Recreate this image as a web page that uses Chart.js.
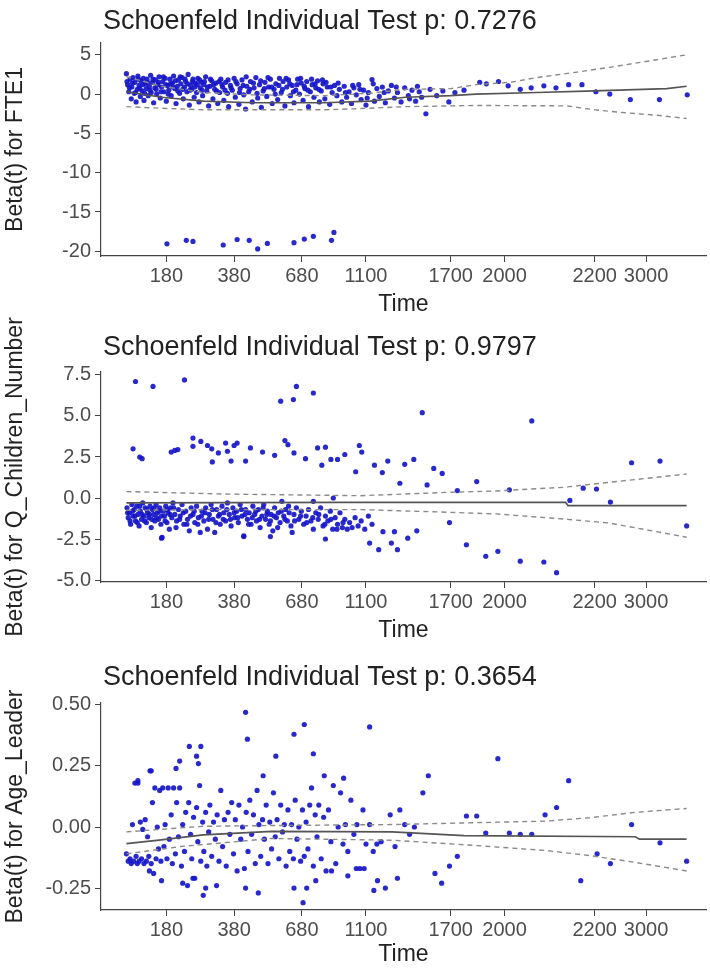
<!DOCTYPE html>
<html>
<head>
<meta charset="utf-8">
<script src="https://cdn.jsdelivr.net/npm/chart.js@4.4.1/dist/chart.umd.min.js"></script>
<style>
  body { margin: 0; background: #fff; width: 710px; height: 976px; overflow: hidden; }
  .panel { position: absolute; left: 0; }
</style>
</head>
<body>
<div class="panel" style="top:0px"><canvas id="fte1" width="710" height="326"></canvas></div>
<div class="panel" style="top:280px"><canvas id="children" width="710" height="372"></canvas></div>
<div class="panel" style="top:652px"><canvas id="age" width="710" height="324"></canvas></div>
<script>
// x axis is the transformed time scale (0-100), labelled with real times
const timeTicks = [10.8, 22.0, 33.2, 43.8, 57.8, 66.7, 81.6, 90.1];
const timeLabels = ["180", "380", "680", "1100", "1700", "2000", "2200", "3000"];

// ---- FTE1 ----
const fte1Title = "Schoenfeld Individual Test p: 0.7276";
const fte1Ticks = [5, 0, -5, -10, -15, -20];
const fte1Points = [
  [4.2,2.6],[4.4,1.2],[4.6,0.3],[4.8,1.9],[5.0,-0.6],[5.1,0.9],[5.3,2.1],[5.5,0.1],[5.6,1.5],[5.8,-1.0],
  [6.0,0.6],[6.1,2.3],[6.3,1.1],[6.5,-0.3],[6.6,1.7],[6.8,0.4],[7.0,2.0],[7.1,-0.8],[7.3,1.3],[7.5,0.7],
  [7.6,1.9],[7.8,-0.2],[8.0,1.0],[8.2,2.4],[8.3,0.2],[8.5,1.5],[8.7,-1.1],[8.9,0.8],[9.0,1.8],[9.2,0.0],
  [9.4,1.2],[9.6,2.2],[9.8,-0.5],[10.0,0.9],[10.2,1.6],[10.4,0.3],[10.6,2.0],[10.8,-0.9],[11.0,1.1],[11.2,0.5],
  [11.4,1.9],[11.6,-0.2],[11.8,1.4],[12.0,2.3],[12.2,0.7],[12.4,-1.2],[12.6,1.0],[12.8,1.8],[13.0,0.1],[13.2,1.3],
  [13.4,2.1],[13.6,-0.6],[13.8,0.9],[14.0,1.6],[14.2,0.3],[14.4,2.5],[14.6,-1.4],[14.8,1.1],[15.0,0.6],[15.2,1.9],
  [15.4,-0.4],[15.6,1.4],[15.8,0.2],[16.0,2.0],[16.2,-1.0],[16.4,0.8],[16.6,1.5],[16.8,-0.2],[17.0,1.2],[17.3,2.2],
  [17.5,0.4],[17.8,-1.5],[18.0,1.0],[18.3,1.7],[18.5,-0.6],[18.8,0.6],[19.0,1.4],[19.3,-1.2],[19.6,0.2],[19.8,1.9],
  [20.1,0.9],[20.3,-0.8],[20.6,1.5],[20.9,0.1],[21.1,-1.6],[21.4,1.1],[21.7,0.5],[22.0,2.0],[22.2,-0.4],[22.5,1.3],
  [22.8,-1.3],[23.0,0.7],[23.3,1.8],[23.6,-0.1],[23.9,-1.9],[24.1,1.0],[24.4,0.3],[24.7,1.6],[25.0,-1.0],[25.3,0.8],
  [25.6,2.1],[25.9,-0.5],[26.2,1.2],[26.5,-1.7],[26.8,0.4],[27.1,1.5],[27.4,-0.3],[27.7,0.9],[28.0,1.9],[28.3,-1.2],
  [28.6,0.6],[28.9,1.3],[29.2,-0.7],[29.5,2.0],[29.8,0.2],[30.1,1.6],[30.4,-1.5],[30.7,0.9],[31.0,1.8],[31.3,-0.2],
  [31.6,1.1],[31.9,-1.1],[32.2,0.5],[32.5,1.9],[32.8,0.0],[33.1,1.4],[33.4,-0.8],[33.7,0.7],[34.0,1.6],[34.3,-1.6],
  [34.6,0.3],[34.9,1.2],[35.2,-0.4],[35.5,0.8],[35.8,1.7],[36.1,-1.0],[36.4,0.4],[36.7,1.3],[37.0,-0.6],[37.4,0.9],
  [37.8,-1.3],[38.2,0.2],[38.6,1.1],[39.0,-0.2],[39.4,0.6],[39.8,-1.0],[40.2,1.0],[40.6,-0.4],[41.0,0.3],[41.4,-1.2],
  [41.8,0.8],[42.2,-0.1],[42.6,1.2],[43.0,-0.7],[43.4,0.5],[43.8,-1.4],[44.2,0.2],[44.8,1.85],[45.2,-0.9],[45.6,0.7],
  [46.0,-0.3],[46.5,0.9],[47.0,-1.1],[47.5,0.4],[48.0,1.1],[48.5,-0.5],[49.0,0.2],[49.6,-1.0],[50.2,0.8],[50.8,-0.2],
  [51.4,0.5],[52.0,-0.9],[52.6,0.3],[53.0,-0.4],[53.7,-2.5],[54.4,0.6],[55.5,-0.2],[56.5,0.4],[57.5,-1.0],[58.5,0.2],
  [60.0,0.5],[62.6,1.5],[63.7,1.3],[65.7,1.6],[67.3,1.05],[69.3,0.6],[71.1,0.8],[73.2,1.05],[75.2,0.8],[77.3,1.2],
  [79.5,1.2],[81.8,0.3],[84.1,0.0],[87.5,-0.7],[92.3,-0.7],[96.9,-0.1],
  // dense band, second pass
  [4.3,1.6],[4.7,0.8],[5.2,1.4],[5.7,0.2],[6.2,1.9],[6.4,0.7],[6.9,1.2],[7.2,0.1],[7.7,1.5],[8.1,0.5],
  [8.6,1.9],[9.1,0.6],[9.5,1.5],[9.9,0.3],[10.3,2.2],[10.7,1.2],[11.1,0.0],[11.5,1.3],[11.9,0.9],[12.3,1.7],
  [12.7,0.4],[13.1,2.2],[13.5,0.6],[13.9,1.9],[14.3,1.3],[14.7,0.5],[15.1,1.6],[15.5,0.9],[15.9,1.2],[16.3,1.8],
  [16.7,0.5],[17.1,1.6],[17.6,0.9],[18.1,1.9],[18.6,1.2],[19.1,0.4],[19.5,1.6],[20.0,1.2],[20.5,0.5],[21.0,1.8],
  [21.5,0.8],[22.3,1.6],[22.9,0.2],[23.5,1.1],[24.0,2.2],[24.6,0.6],[25.2,1.4],[25.8,0.1],[26.4,1.7],[27.0,0.7],
  [27.6,2.1],[28.2,0.9],[28.8,0.0],[29.4,1.1],[30.0,0.6],[30.6,2.0],[31.2,1.3],[31.8,0.3],[32.4,1.2],[33.0,2.0],
  [33.6,1.0],[34.2,0.5],[34.8,1.9],[35.4,1.3],[36.0,0.6],[36.6,1.8],[37.2,1.5],[38.0,0.9],[39.2,1.4],[40.4,0.2],
  [41.6,1.1],[42.8,0.6],[44.0,-0.5],[45.0,1.3],[46.8,0.2],[48.8,0.9],[51.0,-0.6],[52.3,1.0],
  // low group
  [10.9,-19.05],[14.1,-18.6],[15.2,-18.75],[20.2,-19.2],[22.5,-18.5],[24.5,-18.6],[25.9,-19.7],[27.5,-19.0],
  [31.9,-18.9],[33.6,-18.45],[35.1,-18.1],[38.1,-18.6],[38.5,-17.6]
];
const fte1Fit = [[4.2,0.3],[10,-0.4],[16.9,-0.9],[25.1,-1.1],[37,-1.1],[44.4,-0.9],[50.3,-0.4],[57.8,-0.2],[62,0.0],[72,0.2],[81.6,0.4],[93.5,0.7],[96.8,1.0]];
const fte1Upper = [[4.2,2.2],[10,1.0],[16.9,0.2],[25,-0.1],[37,-0.2],[44.4,0.1],[50.3,0.6],[57.8,0.7],[62,1.2],[67.7,1.5],[72,2.1],[78.7,2.8],[84,3.4],[89.7,4.1],[96.8,5.0]];
const fte1Lower = [[4.2,-1.6],[10,-1.8],[16.9,-2.0],[25,-2.0],[37,-2.0],[44.4,-1.8],[50.3,-1.6],[57.8,-1.5],[62,-1.45],[77,-1.5],[81.6,-2.0],[87,-2.4],[92,-2.7],[96.8,-3.1]];

// ---- Q_Children_Number ----
const childTitle = "Schoenfeld Individual Test p: 0.9797";
const childTicks = [7.5, 5.0, 2.5, 0.0, -2.5, -5.0];
const childPoints = [
  [4.3,-0.6],[4.5,-1.2],[4.7,-0.9],[4.9,-1.6],[5.1,-0.4],[5.3,-1.1],[5.5,-0.7],[5.7,-1.4],[5.9,-0.5],[6.1,-1.0],
  [6.3,-1.7],[6.5,-0.8],[6.7,-1.3],[6.9,-0.3],[7.1,-1.1],[7.3,-0.6],[7.5,-1.5],[7.7,-0.9],[7.9,-1.2],[8.1,-0.5],
  [8.3,-1.8],[8.5,-0.7],[8.7,-1.0],[8.9,-1.4],[9.1,-0.4],[9.3,-0.9],[9.5,-1.3],[9.7,-0.6],[9.9,-1.6],[10.1,-2.4],
  [10.3,-0.8],[10.5,-1.1],[10.7,-0.5],[10.9,-1.5],[11.1,-0.9],[11.3,-1.9],[11.5,-0.6],[11.7,-1.2],[11.9,-0.3],[12.2,-1.0],
  [12.5,-1.4],[12.8,-0.7],[13.1,-1.1],[13.4,-0.4],[13.7,-1.6],[14.0,-0.8],[14.3,-1.3],[14.6,-2.0],[14.9,-0.6],[15.2,-1.0],
  [15.5,-1.5],[15.8,-0.5],[16.1,-1.2],[16.4,-2.1],[16.7,-0.8],[17.0,-1.4],[17.3,-0.6],[17.6,-1.9],[17.9,-1.0],[18.2,-0.4],
  [18.5,-1.3],[18.8,-2.1],[19.1,-0.7],[19.4,-1.1],[19.7,-1.6],[20.0,-0.5],[20.3,-0.9],[20.6,-1.4],[20.9,-0.3],[21.2,-1.0],
  [21.5,-1.7],[21.8,-0.6],[22.1,-1.2],[22.4,-0.8],[22.7,-1.5],[23.0,-0.4],[23.3,-1.1],[23.6,-2.3],[23.9,-0.7],[24.2,-1.3],
  [24.5,-0.9],[24.8,-1.6],[25.1,-0.5],[25.4,-1.0],[25.7,-1.4],[26.0,-0.7],[26.3,-1.8],[26.6,-1.1],[26.9,-0.4],[27.2,-1.3],
  [27.5,-0.8],[27.8,-1.6],[28.1,-1.0],[28.4,-2.0],[28.7,-0.6],[29.0,-1.2],[29.3,-0.9],[29.6,-1.5],[29.9,-0.2],[30.2,-1.1],
  [30.5,-0.7],[30.8,-1.4],[31.1,-0.9],[31.4,-1.7],[31.9,-1.0],[32.3,-0.6],[32.7,-1.3],[33.1,-0.8],[33.5,-1.6],[33.9,-1.1],
  [34.3,-0.7],[34.7,-1.4],[35.1,-1.9],[35.5,-0.9],[35.9,-1.3],[36.3,-0.6],[36.7,-1.7],[37.1,-1.1],[37.5,-1.4],[37.9,-0.8],
  [38.3,-1.9],[38.7,-1.2],[39.1,-1.6],[39.5,-0.9],[39.9,-1.8],[40.3,-1.3],[40.7,-1.9],[41.1,-1.5],[41.5,-1.8],[42.0,-1.2],
  [42.5,-1.7],[43.0,-1.4],[43.6,-1.9],[44.2,-1.1],[44.8,-1.6],[35.1,-0.2],[38.4,0.0],
  // dense band, second pass
  [4.4,-0.9],[4.8,-1.4],[5.2,-0.8],[5.6,-1.1],[6.0,-1.5],[6.4,-0.5],[6.8,-1.0],[7.2,-1.4],[7.6,-0.7],[8.0,-1.0],
  [8.4,-1.3],[8.8,-0.6],[9.2,-1.2],[9.6,-0.8],[10.0,-1.1],[10.6,-1.4],[11.0,-0.7],[11.4,-1.0],[12.0,-0.6],[12.4,-1.8],
  [13.0,-1.3],[13.6,-0.9],[14.2,-1.6],[14.8,-1.1],[15.4,-0.8],[16.0,-1.6],[16.6,-1.1],[17.2,-0.9],[17.8,-1.3],[18.4,-0.7],
  [19.0,-1.5],[19.6,-1.0],[20.2,-1.3],[20.8,-0.7],[21.4,-1.3],[22.0,-0.9],[22.6,-1.2],[23.2,-0.7],[23.8,-1.0],[24.4,-1.6],
  [25.0,-1.2],[25.6,-0.8],[26.2,-1.3],[26.8,-0.6],[27.4,-1.0],[28.0,-1.4],[28.6,-1.1],[29.2,-1.8],[29.8,-0.8],[30.4,-1.3],
  [31.0,-0.5],[32.0,-1.4],[33.0,-1.1],[34.0,-1.5],[35.0,-1.2],[36.0,-1.0],[37.0,-1.6],[38.0,-1.3],[39.0,-1.9],[40.0,-1.5],
  // upper outliers
  [5.7,7.1],[8.6,6.8],[13.8,7.2],[29.7,5.9],[31.8,6.0],[32.3,6.8],[35.1,6.4],[53.1,5.2],[71.2,4.7],
  [5.3,3.0],[6.4,2.5],[6.8,2.4],[11.6,2.8],[12.2,2.9],[12.7,2.95],[15.2,3.65],[15.2,3.15],[16.5,3.45],[17.6,3.2],
  [18.3,3.0],[18.4,2.2],[19.4,2.75],[20.6,3.35],[20.9,2.85],[21.5,2.25],[22.0,3.2],[22.5,3.35],[23.9,2.25],[24.7,3.05],
  [26.7,2.8],[28.7,2.6],[30.4,3.5],[30.9,3.25],[31.9,2.75],[33.8,2.4],[35.8,3.05],[37.1,3.1],[36.5,2.0],[38.0,2.35],
  [39.1,2.35],[40.3,2.65],[42.1,1.6],[42.7,3.2],[43.1,2.8],[45.2,2.0],[46.5,1.55],[47.4,2.25],[49.4,0.9],[50.2,2.05],
  [51.7,2.35],[53.9,0.8],[55.0,1.8],[56.4,1.5],[58.9,0.45],[62.1,1.0],[67.5,0.5],[77.5,-0.15],[79.7,0.6],[81.9,0.55],
  [84.2,-0.25],[87.7,2.15],[92.4,2.25],[96.8,-1.7],
  // lower outliers
  [57.6,-1.5],[60.4,-2.85],[63.6,-3.55],[65.6,-3.25],[69.3,-3.85],[73.2,-3.9],[75.3,-4.55],[44.4,-2.75],[45.9,-3.15],
  [46.6,-2.05],[48.5,-2.05],[48.0,-2.75],[49.0,-3.15],[50.7,-2.45],[52.2,-2.0],[37.1,-2.5],[28.0,-2.35],[23.6,-2.35],
  [10.0,-2.45],[31.6,-2.1]
];
const childFit = [[4.2,-0.3],[40,-0.27],[76.8,-0.27],[77.2,-0.46],[96.8,-0.47]];
const childUpper = [[4.2,0.39],[20.6,0.24],[42.9,0.14],[57.8,0.35],[65.3,0.43],[76.4,0.65],[83.9,0.95],[96.8,1.46]];
const childLower = [[4.2,-0.75],[16.9,-0.71],[42.9,-0.71],[54.1,-0.83],[65.3,-0.97],[76.4,-1.28],[83.9,-1.52],[96.8,-2.39]];

// ---- Age_Leader ----
const ageTitle = "Schoenfeld Individual Test p: 0.3654";
const ageTicks = [0.5, 0.25, 0.0, -0.25];
const agePoints = [
  [4.2,-0.11],[4.5,-0.14],[4.8,-0.13],[5.0,-0.15],[5.2,0.01],[5.4,-0.14],[5.6,0.18],[5.8,-0.12],[6.0,-0.15],[6.1,0.19],
  [6.3,-0.14],[6.5,0.02],[6.7,-0.13],[6.9,-0.01],[7.1,-0.15],[7.3,0.03],[7.5,-0.14],[7.7,-0.04],[7.9,-0.12],[8.1,0.23],
  [8.3,-0.15],[8.5,0.1],[8.7,-0.19],[8.9,0.16],[9.1,-0.13],[9.3,0.0],[9.5,-0.09],[9.7,0.15],[9.9,-0.14],[10.2,0.16],
  [10.4,-0.08],[10.6,0.01],[10.9,-0.13],[11.1,0.16],[11.3,-0.05],[11.6,0.05],[11.8,-0.15],[12.0,0.16],[12.3,-0.11],[12.5,0.1],
  [12.8,-0.04],[13.0,0.16],[13.3,-0.16],[13.5,0.01],[13.8,-0.1],[14.0,0.06],[14.3,-0.24],[14.5,0.1],[14.8,-0.03],[15.0,-0.13],
  [15.3,0.04],[15.5,-0.21],[15.8,0.08],[16.0,-0.06],[16.3,0.17],[16.5,-0.14],[16.8,0.02],[17.0,-0.1],[17.3,0.06],[17.5,-0.16],
  [17.8,-0.02],[18.0,0.09],[18.3,-0.12],[18.6,0.02],[18.9,-0.05],[19.2,0.05],[19.5,-0.14],[19.8,0.15],[20.1,-0.08],[20.4,0.03],
  [20.7,-0.16],[21.0,0.06],[21.3,-0.03],[21.6,0.1],[21.9,-0.11],[22.2,0.03],[22.5,-0.18],[22.8,0.09],[23.1,-0.05],[23.4,0.0],
  [23.7,-0.17],[24.0,0.06],[24.3,-0.1],[24.6,0.11],[24.9,-0.03],[25.2,0.05],[25.5,-0.15],[25.8,0.15],[26.1,0.01],[26.4,-0.12],
  [26.7,0.03],[27.0,-0.05],[27.3,0.09],[27.6,-0.15],[27.9,0.02],[28.2,-0.09],[28.5,0.14],[28.8,-0.04],[29.1,0.03],[29.4,-0.13],
  [29.7,0.09],[30.0,-0.02],[30.3,0.01],[30.6,-0.16],[30.9,0.07],[31.2,-0.1],[31.5,0.01],[31.8,-0.13],[32.1,0.11],[32.4,-0.05],
  [32.7,0.0],[33.0,-0.14],[33.3,0.07],[33.6,-0.12],[33.9,0.02],[34.2,-0.09],[34.5,0.09],[34.8,0.16],[35.1,-0.16],[35.4,0.05],
  [35.7,-0.04],[36.0,0.09],[36.4,-0.13],[36.8,0.04],[37.2,-0.18],[37.6,0.07],[38.0,-0.06],[38.4,0.17],[38.8,-0.15],[39.2,0.0],
  [39.6,0.14],[40.0,-0.07],[40.4,0.01],[40.8,-0.1],[41.3,0.11],[41.8,-0.03],[42.3,0.01],[42.8,-0.17],[43.3,0.07],[43.8,-0.07],
  [44.4,0.01],[45.0,-0.1],[45.6,-0.07],[46.3,-0.06],[47.0,-0.25],[47.8,0.05],[48.6,-0.08],[49.4,0.07],[50.2,0.01],[51.0,-0.03],
  [51.8,0.0],
  // scattered
  [23.9,0.47],[24.2,0.36],[31.9,0.38],[33.6,0.42],[44.4,0.41],[14.6,0.33],[16.5,0.33],[15.8,0.29],[16.1,0.26],[13.0,0.27],
  [12.4,0.24],[28.9,0.29],[35.1,0.3],[65.6,0.28],[77.3,0.19],[75.3,0.08],[73.4,0.05],[54.1,0.21],[53.2,0.14],[26.8,0.21],
  [36.9,0.21],[40.1,0.2],[6.1,0.18],[8.3,0.23],[79.3,-0.22],[82.0,-0.11],[84.2,-0.15],[92.4,-0.065],[96.8,-0.14],[87.7,0.01],
  [60.4,0.045],[62.1,0.045],[63.6,-0.025],[67.5,-0.025],[69.3,-0.03],[71.2,-0.03],[55.2,-0.19],[56.3,-0.23],[57.6,-0.16],[58.9,-0.12],
  [49.0,-0.21],[45.7,-0.22],[45.1,-0.26],[33.4,-0.31],[31.9,-0.25],[34.0,-0.25],[26.0,-0.27],[23.9,-0.25],[16.9,-0.28],[17.3,-0.25],
  [19.1,-0.24],[13.5,-0.23],[10.0,-0.22],[8.0,-0.18],[15.2,-0.21],[35.5,-0.22],[38.1,-0.18],[40.8,-0.2],[42.2,-0.17],[43.5,-0.17]
];
const ageFit = [[4.2,-0.068],[9.6,-0.054],[16.9,-0.032],[28.2,-0.018],[48.1,-0.02],[60,-0.035],[88.3,-0.04],[89,-0.05],[96.8,-0.05]];
const ageUpper = [[4.2,-0.02],[9.6,-0.01],[16.9,0.003],[28.2,0.006],[48.1,0.01],[73.4,0.024],[80.8,0.038],[88.3,0.06],[96.8,0.076]];
const ageLower = [[4.2,-0.11],[13.2,-0.08],[28.2,-0.047],[48.1,-0.054],[61.5,-0.075],[73.4,-0.096],[80.8,-0.117],[88.3,-0.145],[96.8,-0.18]];

const FONT = "'Liberation Sans', Arial, sans-serif";
const AXIS_LEFT = 101;

// panel title drawn from the left edge of the plot area
const panelTitle = {
  id: "panelTitle",
  afterDraw(chart, args, opts) {
    const ctx = chart.ctx;
    ctx.save();
    ctx.font = "27px " + FONT;
    ctx.fillStyle = "#222";
    ctx.textBaseline = "alphabetic";
    ctx.fillText(opts.text, chart.chartArea.left + 2, opts.y);
    ctx.restore();
  },
};

const toXY = (arr) => arr.map(([x, y]) => ({ x: x, y: y }));

function drawPanel(id, p) {
  const canvas = document.getElementById(id);
  const h = canvas.height;
  const lineSet = (data, dashed) => ({
    data: toXY(data),
    showLine: true,
    pointRadius: 0,
    borderColor: dashed ? "#8a8a8a" : "#555",
    borderWidth: dashed ? 1.4 : 1.7,
    borderDash: dashed ? [5, 4] : [],
    order: 1,
  });

  new Chart(canvas, {
    type: "scatter",
    data: {
      datasets: [
        {
          data: toXY(p.points),
          pointRadius: 2.6,
          pointBackgroundColor: "rgba(22,22,200,0.92)",
          pointBorderWidth: 0,
          order: 2,
        },
        lineSet(p.fit, false),
        lineSet(p.upper, true),
        lineSet(p.lower, true),
      ],
    },
    options: {
      responsive: false,
      animation: false,
      layout: { padding: { top: p.plotTop - p.top, left: 0, right: 0, bottom: 0 } },
      plugins: {
        legend: { display: false },
        tooltip: { enabled: false },
        panelTitle: { text: p.title, y: p.titleBase - p.top },
      },
      scales: {
        x: {
          type: "linear",
          min: 0,
          max: 100,
          afterBuildTicks: (s) => { s.ticks = timeTicks.map((v) => ({ value: v })); },
          afterFit: (s) => { s.height = h - (p.axisY - p.top); },
          ticks: {
            color: "#4d4d4d",
            font: { family: FONT, size: 20 },
            padding: 2,
            maxRotation: 0,
            autoSkip: false,
            callback: (v) => timeLabels[timeTicks.indexOf(v)],
          },
          grid: { drawOnChartArea: false, drawTicks: true, tickLength: 6, color: "#444" },
          border: { display: true, color: "#444", width: 1.2 },
          title: {
            display: true,
            text: "Time",
            color: "#222",
            font: { family: FONT, size: 23 },
            padding: { top: 0, bottom: 8 },
          },
        },
        y: {
          type: "linear",
          min: p.yMin,
          max: p.yMax,
          afterBuildTicks: (s) => { s.ticks = p.ticks.map((v) => ({ value: v })); },
          afterFit: (s) => { s.width = AXIS_LEFT; },
          ticks: {
            color: "#4d4d4d",
            font: { family: FONT, size: 20 },
            padding: 4,
            callback: (v) => v.toFixed(p.decimals),
          },
          grid: { drawOnChartArea: false, drawTicks: true, tickLength: 6, color: "#444" },
          border: { display: true, color: "#444", width: 1.2 },
          title: {
            display: true,
            text: p.yLabel,
            color: "#222",
            font: { family: FONT, size: 23 },
            padding: { top: 2, bottom: 0 },
          },
        },
      },
    },
    plugins: [panelTitle],
  });
}

drawPanel("fte1", {
  title: fte1Title, yLabel: "Beta(t) for FTE1",
  points: fte1Points, fit: fte1Fit, upper: fte1Upper, lower: fte1Lower,
  ticks: fte1Ticks, decimals: 0, yMin: -20.6, yMax: 6.5,
  top: 0, titleBase: 29, plotTop: 43, axisY: 256,
});

drawPanel("children", {
  title: childTitle, yLabel: "Beta(t) for Q_Children_Number",
  points: childPoints, fit: childFit, upper: childUpper, lower: childLower,
  ticks: childTicks, decimals: 1, yMin: -5.12, yMax: 7.68,
  top: 280, titleBase: 355, plotTop: 372, axisY: 582,
});

drawPanel("age", {
  title: ageTitle, yLabel: "Beta(t) for Age_Leader",
  points: agePoints, fit: ageFit, upper: ageUpper, lower: ageLower,
  ticks: ageTicks, decimals: 2, yMin: -0.34, yMax: 0.508,
  top: 652, titleBase: 685, plotTop: 703, axisY: 910,
});
</script>
</body>
</html>
